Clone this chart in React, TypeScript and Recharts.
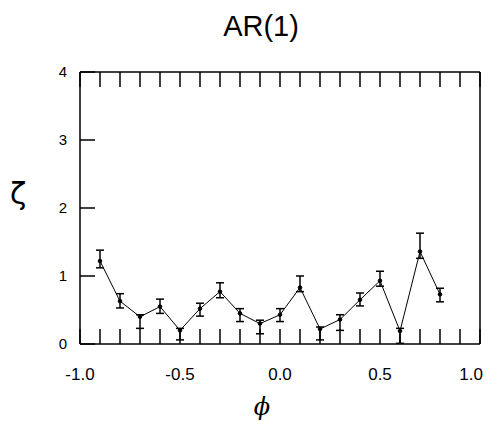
import { ComposedChart, Line, XAxis, YAxis, ErrorBar } from "recharts";

// AR(1) coefficient on the x axis
const phi = [-0.9, -0.8, -0.7, -0.6, -0.5, -0.4, -0.3, -0.2, -0.1, 0.0, 0.1, 0.2, 0.3, 0.4, 0.5, 0.6, 0.7, 0.8];
const zeta = [1.22, 0.63, 0.4, 0.55, 0.2, 0.52, 0.77, 0.45, 0.3, 0.43, 0.83, 0.22, 0.36, 0.65, 0.93, 0.19, 1.36, 0.73];
const zetaHigh = [1.38, 0.74, 0.43, 0.66, 0.23, 0.6, 0.9, 0.52, 0.35, 0.52, 1.0, 0.25, 0.43, 0.75, 1.07, 0.23, 1.63, 0.82];
const zetaLow = [1.12, 0.53, 0.23, 0.45, 0.06, 0.41, 0.68, 0.33, 0.15, 0.33, 0.77, 0.06, 0.2, 0.56, 0.85, 0.01, 1.26, 0.62];

const xTicks = [-1, -0.9, -0.8, -0.7, -0.6, -0.5, -0.4, -0.3, -0.2, -0.1, 0, 0.1, 0.2, 0.3, 0.4, 0.5, 0.6, 0.7, 0.8, 0.9, 1];
const xLabels: Record<string, string> = { "-1": "-1.0", "-0.5": "-0.5", "0": "0.0", "0.5": "0.5", "1": "1.0" };
const yTicks = [0, 1, 2, 3, 4];

const data = phi.map((p, i) => ({
  phi: p,
  zeta: zeta[i],
  err: [zeta[i] - zetaLow[i], zetaHigh[i] - zeta[i]],
}));

const font = "'Liberation Sans', Arial, sans-serif";
const axisLine = { stroke: "#000", strokeWidth: 1.5 };
const tickLine = { stroke: "#000", strokeWidth: 1.5 };

// label under the bottom axis; the last one is right-aligned so it stays in the window
function XTick(props: any) {
  const { x, y, payload } = props;
  const v = Math.round(payload.value * 10) / 10;
  const label = xLabels[String(v)];
  if (!label) return null;
  const last = v === 1;
  return (
    <text x={last ? x + 3 : x} y={y} dy="0.71em" textAnchor={last ? "end" : "middle"} fill="#000" fontSize={17} fontFamily={font}>
      {label}
    </text>
  );
}

const NoLabel = () => null;

export default function App() {
  return (
    <div style={{ position: "absolute", left: 0, top: 0, width: 486, height: 421, background: "#fff", fontFamily: font }}>
      <ComposedChart width={486} height={421} data={data} margin={{ top: 71, right: 5, left: 20, bottom: 47 }}>
        <XAxis
          xAxisId="b"
          dataKey="phi"
          type="number"
          domain={[-1, 1]}
          ticks={xTicks}
          allowDataOverflow
          height={30}
          tickSize={-15}
          tickMargin={39}
          axisLine={axisLine}
          tickLine={tickLine}
          interval={0}
          tick={<XTick />}
        />
        <XAxis
          xAxisId="t"
          orientation="top"
          type="number"
          dataKey="phi"
          domain={[-1, 1]}
          ticks={xTicks}
          allowDataOverflow
          height={1}
          tickSize={-15}
          axisLine={axisLine}
          tickLine={tickLine}
          interval={0}
          tick={<NoLabel />}
        />
        <YAxis
          yAxisId="l"
          type="number"
          domain={[0, 4]}
          ticks={yTicks}
          width={60}
          tickSize={-15}
          tickMargin={28}
          axisLine={axisLine}
          tickLine={tickLine}
          interval={0}
          tick={{ fill: "#000", fontSize: 15, fontFamily: font }}
        />
        <YAxis
          yAxisId="r"
          orientation="right"
          type="number"
          domain={[0, 4]}
          ticks={yTicks}
          width={1}
          tickSize={-15}
          axisLine={axisLine}
          tickLine={tickLine}
          interval={0}
          tick={<NoLabel />}
        />
        <Line
          xAxisId="b"
          yAxisId="l"
          dataKey="zeta"
          stroke="#000"
          strokeWidth={1}
          dot={{ r: 1.8, fill: "#000", stroke: "#000", strokeWidth: 1 }}
          isAnimationActive={false}
        >
          <ErrorBar dataKey="err" direction="y" width={4} stroke="#000" strokeWidth={1.5} isAnimationActive={false} />
        </Line>
      </ComposedChart>
      <div style={{ position: "absolute", left: 0, width: 522, top: 9, textAlign: "center", fontSize: 29, lineHeight: "34px" }}>
        AR(1)
      </div>
      <div style={{ position: "absolute", left: 10, top: 176, fontSize: 30, lineHeight: "36px", fontFamily: "'DejaVu Sans', sans-serif" }}>
        ζ
      </div>
      <div style={{ position: "absolute", left: 0, width: 524, top: 393, textAlign: "center", fontSize: 24, lineHeight: "28px", fontStyle: "italic", fontFamily: "'DejaVu Serif', serif" }}>
        ϕ
      </div>
    </div>
  );
}
